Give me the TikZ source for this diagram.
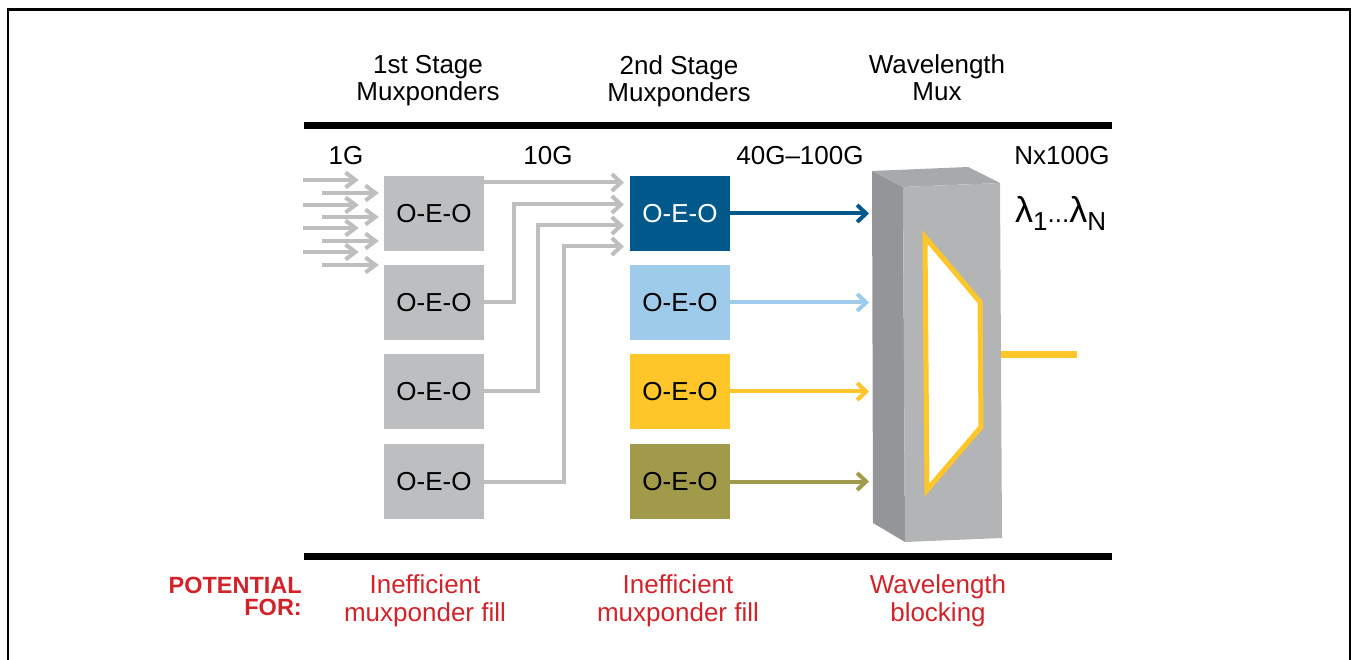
\documentclass[tikz,border=0pt]{standalone}
\usepackage{fontspec}
\setmainfont{Liberation Sans}
\usetikzlibrary{arrows.meta,calc,positioning}

\definecolor{oeogray}{HTML}{BDBEC0}
\definecolor{darkblue}{HTML}{00598A}
\definecolor{lightblue}{HTML}{9FCBEB}
\definecolor{sunyellow}{HTML}{FFC629}
\definecolor{olive}{HTML}{A19A4B}
\definecolor{muxside}{HTML}{939598}
\definecolor{muxtop}{HTML}{A7A9AC}
\definecolor{muxfront}{HTML}{B2B4B6}
\definecolor{warnred}{HTML}{D2232A}

\newcommand{\diagfont}{\fontsize{26}{27}\selectfont}
\newcommand{\warnfont}{\fontsize{26}{28}\selectfont}
\newcommand{\subfont}{\fontsize{26}{26}\selectfont}

\tikzset{
	oeo/.style={minimum width=100pt, minimum height=75pt, inner sep=0pt, font=\diagfont},
	heading/.style={align=center, inner sep=0pt, font=\diagfont},
	rate/.style={anchor=base, inner sep=0pt, font=\diagfont},
	warning/.style={align=center, inner sep=0pt, font=\warnfont, text=warnred},
	inarrow/.style={line width=4pt, oeogray, -{Straight Barb[length=10pt,width=15pt]}},
	route/.style={line width=4pt, oeogray, -{Straight Barb[length=9pt,width=17pt]}, shorten >=6pt},
	lambdaarrow/.style={line width=4pt, -{Straight Barb[length=9pt,width=17pt]}, shorten >=3pt}
}

\begin{document}
\begin{tikzpicture}[x=1pt,y=-1pt]
	\useasboundingbox (0,0) rectangle (1353,660);

	% frame
	\draw[line width=2.2pt] (8,670) -- (8,9.5) -- (1350,9.5) -- (1350,670);

	% headings
	\node[heading] (h1) at (428,81) {1st Stage\\Muxponders};
	\node[heading] (h2) at (679,81) {2nd Stage\\Muxponders};
	\node[heading] (h3) at (937,78) {Wavelength\\Mux};

	% heavy rules
	\coordinate (ruleTL) at (304,126);
	\coordinate (ruleTR) at (1112,126);
	\coordinate (ruleBL) at (304,556);
	\coordinate (ruleBR) at (1112,556);
	\draw[line width=7pt] (ruleTL) -- (ruleTR);
	\draw[line width=7pt] (ruleBL) -- (ruleBR);

	% bit rates
	\node[rate] (r1) at (346,165) {1G};
	\node[rate] (r2) at (548,165) {10G};
	\node[rate] (r3) at (800,165) {40G--100G};
	\node[rate] (r4) at (1062,165) {Nx100G};

	% 1st stage muxponders
	\node[oeo, fill=oeogray] (s1) at (434,213.5) {O-E-O};
	\node[oeo, fill=oeogray] (s2) at (434,302.5) {O-E-O};
	\node[oeo, fill=oeogray] (s3) at (434,391.5) {O-E-O};
	\node[oeo, fill=oeogray] (s4) at (434,481.5) {O-E-O};

	% 2nd stage muxponders
	\node[oeo, fill=darkblue, text=white] (t1) at (680,213.5) {O-E-O};
	\node[oeo, fill=lightblue] (t2) at (680,302.5) {O-E-O};
	\node[oeo, fill=sunyellow] (t3) at (680,391.5) {O-E-O};
	\node[oeo, fill=olive] (t4) at (680,481.5) {O-E-O};

	% 1G inputs
	\foreach \n/\x/\y/\gap in {1/303/180/25, 2/322/193/5, 3/303/205/25, 4/322/217/5,
		5/303/228/25, 6/322/241/5, 7/303/252/25, 8/322/265/5} {
		\coordinate (in\n) at (\x,\y);
		\draw[inarrow, shorten >=\gap pt] (in\n) -- (in\n -| s1.west);
	}

	% 10G routes
	\draw[route] ($(s1.east)+(0,-31)$) -- ($(t1.west)+(0,-31)$);
	\draw[route] (s2.east) -- ++(30,0) |- ($(t1.west)+(0,-9)$);
	\draw[route] (s3.east) -- ++(54,0) |- ($(t1.west)+(0,12)$);
	\draw[route] (s4.east) -- ++(80,0) |- ($(t1.west)+(0,33)$);

	% wavelength mux
	\fill[muxside] (872,171) -- (903,187) -- (905,542) -- (873,523) -- cycle;
	\fill[muxtop] (872,171) -- (968,167) -- (1000,183) -- (903,187) -- cycle;
	\fill[muxfront] (903,187) -- (1000,183) -- (1002,538) -- (905,542) -- cycle;
	\draw[sunyellow, line width=5pt, fill=white, line join=miter]
		(925,237) -- (980,302) -- (981,427) -- (927,490) -- cycle;
	\coordinate (muxL) at (872,0);
	\coordinate (muxOut) at (1001,355);
	\coordinate (fibre) at (1077,355);

	% 40G-100G lambdas
	\draw[lambdaarrow, darkblue] (t1.east) -- (t1.east -| muxL);
	\draw[lambdaarrow, lightblue] (t2.east) -- (t2.east -| muxL);
	\draw[lambdaarrow, sunyellow] (t3.east) -- (t3.east -| muxL);
	\draw[lambdaarrow, olive] (t4.east) -- (t4.east -| muxL);
	\draw[sunyellow, line width=7pt] (muxOut) -- (fibre);

	\node[anchor=base west, inner sep=0pt] (lam) at (1015,223)
		{\fontsize{36}{36}\selectfont λ\raisebox{-8pt}{\subfont 1}{\subfont...}λ\raisebox{-8pt}{\subfont N}};

	% potential problems
	\node[align=right, anchor=east, inner sep=0pt, font=\fontsize{23.5}{22}\selectfont\bfseries, text=warnred]
		(pot) at (302,596) {POTENTIAL\\FOR:};
	\node[warning] (w1) at (425,601) {Inefficient\\muxponder fill};
	\node[warning] (w2) at (678,601) {Inefficient\\muxponder fill};
	\node[warning] (w3) at (938,601) {Wavelength\\blocking};
\end{tikzpicture}
\end{document}
